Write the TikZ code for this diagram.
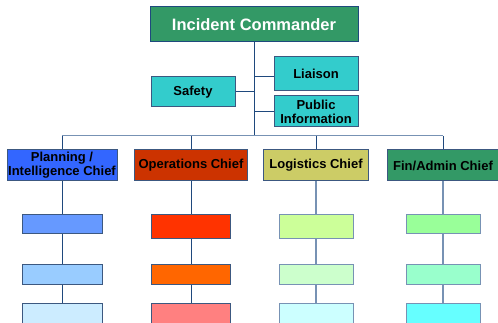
\documentclass[tikz,border=0pt]{standalone}
\usepackage{fontspec}
\setmainfont{Liberation Sans}
\definecolor{icGreen}{RGB}{51, 153, 102}
\definecolor{staffTeal}{RGB}{51, 204, 204}
\definecolor{planBlue}{RGB}{51, 102, 255}
\definecolor{opsRed}{RGB}{204, 51, 0}
\definecolor{logKhaki}{RGB}{204, 204, 102}
\definecolor{planA}{RGB}{102, 153, 255}
\definecolor{planB}{RGB}{153, 204, 255}
\definecolor{planC}{RGB}{204, 236, 255}
\definecolor{opsA}{RGB}{255, 51, 0}
\definecolor{opsB}{RGB}{255, 102, 0}
\definecolor{opsC}{RGB}{255, 128, 128}
\definecolor{logA}{RGB}{204, 255, 153}
\definecolor{logB}{RGB}{204, 255, 204}
\definecolor{logC}{RGB}{204, 255, 255}
\definecolor{finA}{RGB}{153, 255, 153}
\definecolor{finB}{RGB}{153, 255, 204}
\definecolor{finC}{RGB}{102, 255, 255}
\definecolor{navyLine}{RGB}{31, 73, 125}
\definecolor{greyLine}{RGB}{119, 146, 180}
\definecolor{boxEdge}{RGB}{60, 88, 128}
\usepackage{tikz}
\usetikzlibrary{positioning,calc}

\tikzset{
    orgbox/.style={draw=boxEdge,line width=1pt,inner sep=0pt,align=center,
                   font=\fontsize{13}{14}\selectfont\bfseries},
    staffbox/.style={orgbox,fill=staffTeal,minimum width=84pt},
    chiefbox/.style={orgbox,minimum height=31pt},
    subbox/.style={orgbox,minimum height=20pt},
    lightbox/.style={subbox,draw=greyLine},
    darklink/.style={draw=navyLine,line width=1pt},
    lightlink/.style={draw=greyLine,line width=2pt}
}

\begin{document}
\begin{tikzpicture}[x=1pt,y=-1pt]
        \clip (0,0) rectangle (498,323);
        \fill[white] (0,0) rectangle (498,323);

        % command and staff
        \node[orgbox,fill=icGreen,draw=navyLine,minimum width=208pt,minimum height=35pt,
              text=white,font=\fontsize{16.5}{18}\selectfont\bfseries] (ic) at (254,24.5) {Incident Commander};
        \node[staffbox,minimum height=34pt] (liaison) at (316,74) {Liaison};
        \node[staffbox,minimum height=30pt] (safety) at (193,92) {Safety};
        \node[staffbox,minimum height=31pt] (pio) at (316,111.5) {Public\\Information};

        % section chiefs
        \node[chiefbox,fill=planBlue,minimum width=110pt] (plan) at (62,165.5) {Planning /\\Intelligence Chief};
        \node[chiefbox,fill=opsRed,minimum width=113pt] (ops) at (191,165.5) {Operations Chief};
        \node[chiefbox,fill=logKhaki,minimum width=105pt] (log) at (316,165.5) {Logistics Chief};
        \node[chiefbox,fill=icGreen,minimum width=111pt] (fin) at (443,165.5) {Fin/Admin Chief};

        % units under each chief
        \node[subbox,fill=planA,minimum width=80pt,minimum height=19pt] (plan1) at (62,224.5) {};
        \node[subbox,fill=planB,minimum width=80pt] (plan2) at (62,274) {};
        \node[subbox,fill=planC,minimum width=80pt,minimum height=24pt] (plan3) at (62,315) {};

        \node[subbox,fill=opsA,minimum width=79pt,minimum height=24pt] (ops1) at (191,227) {};
        \node[subbox,fill=opsB,minimum width=79pt] (ops2) at (191,274) {};
        \node[subbox,fill=opsC,minimum width=79pt,minimum height=24pt] (ops3) at (191,315) {};

        \node[lightbox,fill=logA,minimum width=74pt,minimum height=24pt] (log1) at (316,227) {};
        \node[lightbox,fill=logB,minimum width=74pt] (log2) at (316,274) {};
        \node[lightbox,fill=logC,minimum width=74pt,minimum height=24pt] (log3) at (316,315) {};

        \node[lightbox,fill=finA,minimum width=74pt,minimum height=19pt] (fin1) at (443,224.5) {};
        \node[lightbox,fill=finB,minimum width=74pt] (fin2) at (443,274) {};
        \node[lightbox,fill=finC,minimum width=74pt,minimum height=24pt] (fin3) at (443,315) {};

        % connectors
        \coordinate (bus) at (254,136);
        \draw[darklink] (ic.south) -- (bus);
        \draw[darklink] (safety.east) -- (safety.east -| ic.south);
        \draw[darklink] (liaison.west |- 0,77) -- (ic.south |- 0,77);
        \draw[darklink] (pio.west) -- (pio.west -| ic.south);
        \draw[draw=greyLine,line width=1pt] (bus -| plan.north) -- (bus -| fin.north);
        \foreach \c in {plan,ops,log,fin}
            \draw[darklink] (bus -| \c.north) -- (\c.north);
        \foreach \c in {plan,ops} {
            \draw[darklink] (\c.south) -- (\c1.north);
            \draw[darklink] (\c1.south) -- (\c2.north);
            \draw[darklink] (\c2.south) -- (\c3.north);
        }
        \foreach \c in {log,fin} {
            \draw[lightlink] (\c.south) -- (\c1.north);
            \draw[lightlink] (\c1.south) -- (\c2.north);
            \draw[lightlink] (\c2.south) -- (\c3.north);
        }
    \end{tikzpicture}
\end{document}
